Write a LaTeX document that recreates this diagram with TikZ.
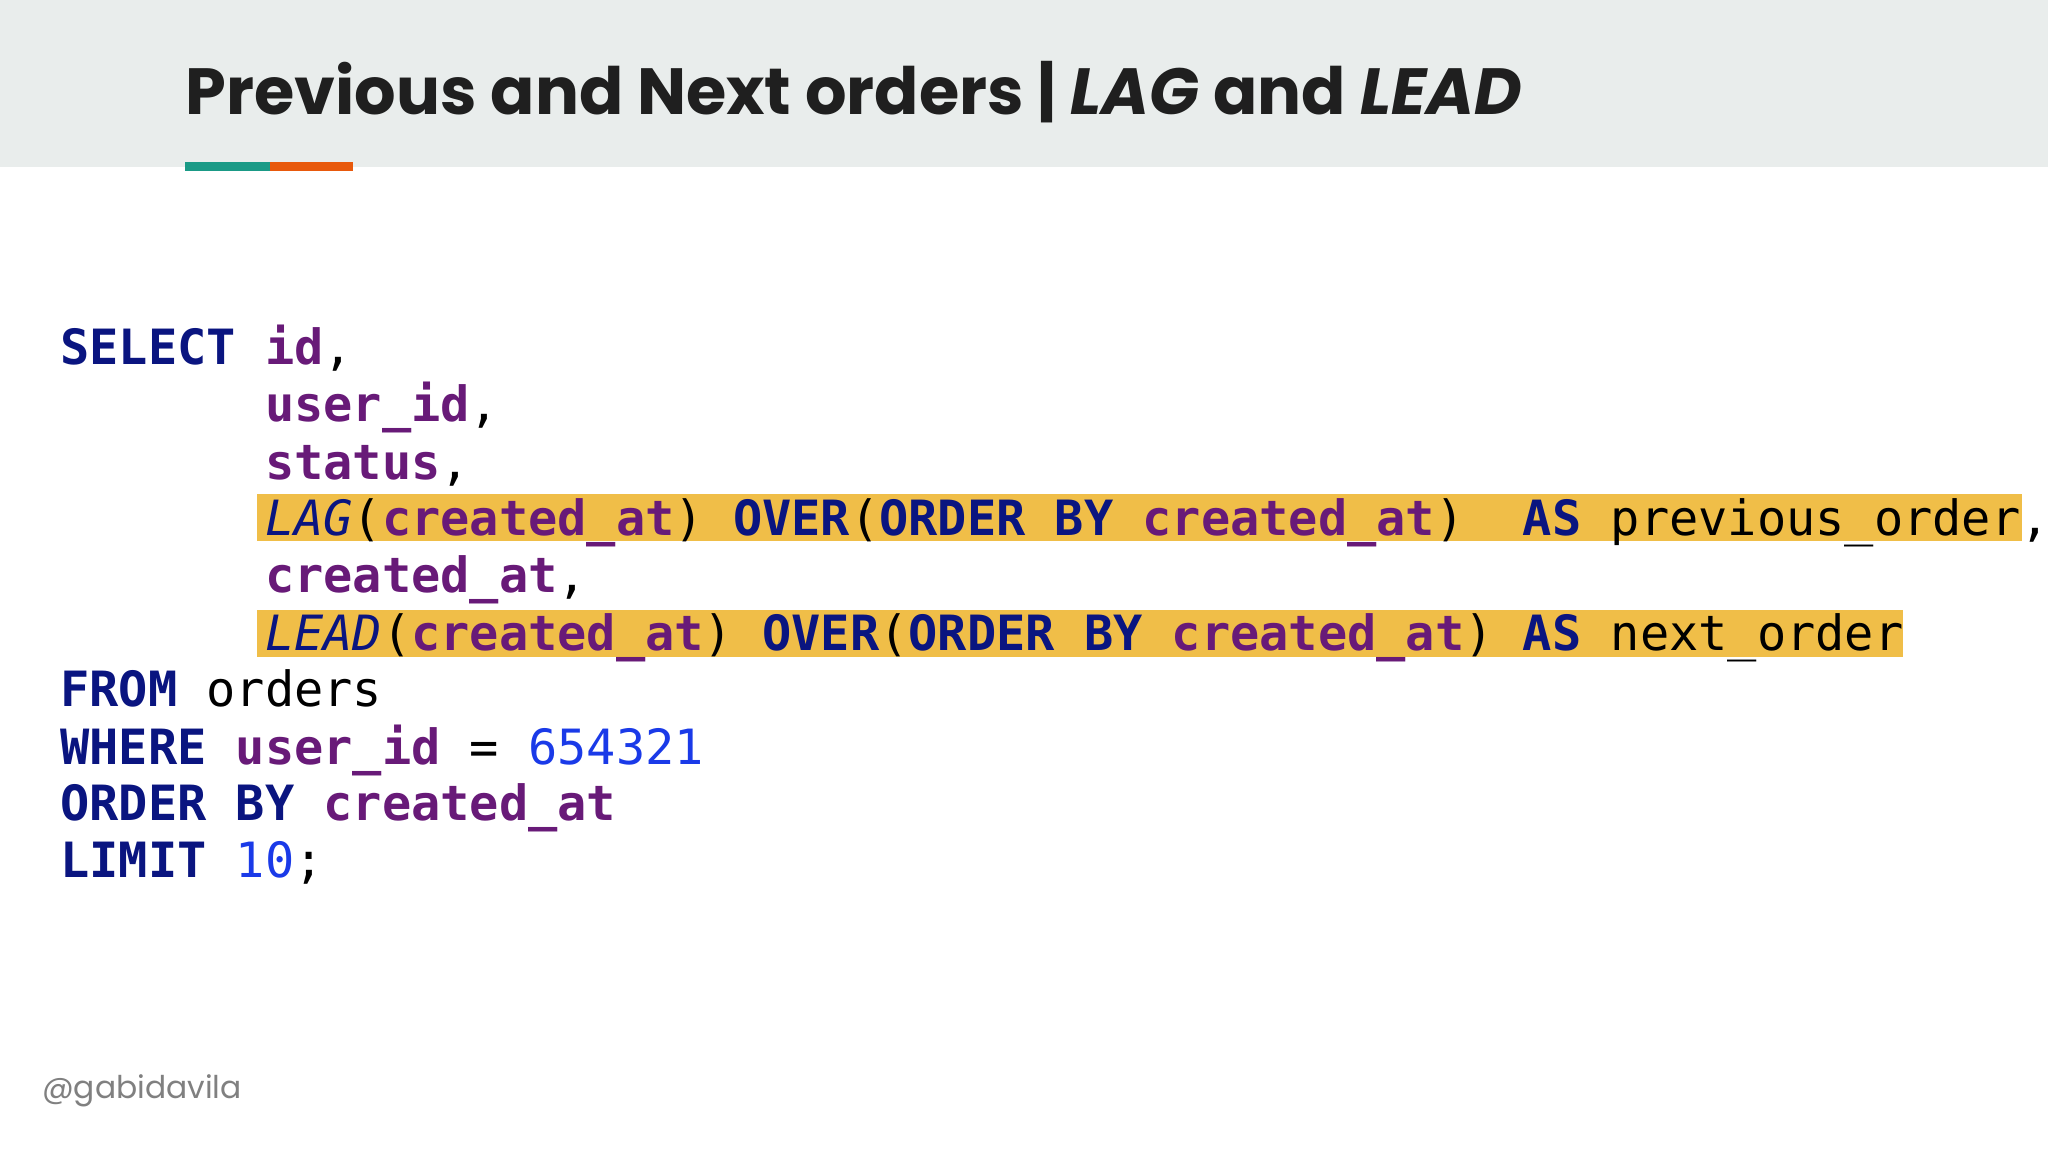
\documentclass[tikz,border=0pt]{standalone}
\usepackage{fontspec}
\setmainfont{Poppins}
\setmonofont{DejaVu Sans Mono}
\definecolor{hdr}{HTML}{E9EDEC}
\definecolor{teal}{HTML}{1A9A86}
\definecolor{orng}{HTML}{E8590C}
\definecolor{kw}{HTML}{0A1580}
\definecolor{idn}{HTML}{681A78}
\definecolor{num}{HTML}{1A3AE8}
\definecolor{hl}{HTML}{F0BE48}
\newcommand{\K}[1]{\textcolor{kw}{\bfseries #1}}
\newcommand{\I}[1]{\textcolor{idn}{\bfseries #1}}
\newcommand{\N}[1]{\textcolor{num}{#1}}
\newcommand{\F}[1]{\textcolor{kw}{\itshape #1}}
\tikzset{code/.style={anchor=base west,inner sep=0,font=\fontsize{37.2}{40}\ttfamily},
title/.style={anchor=base west,inner sep=0,font=\fontsize{50}{56}\selectfont\bfseries,text=black!88}}
\begin{document}
\begin{tikzpicture}[x=1pt,y=-1pt]
\useasboundingbox (0,0) rectangle (1568,882);
\fill[white] (0,0) rectangle (1568,882);
\fill[hdr] (0,0) rectangle (1568,128);
\fill[teal] (142,124) rectangle (207,131);
\fill[orng] (207,124) rectangle (270,131);
\node[title] (t) at (142,88) {Previous and Next orders | \textit{LAG} and \textit{LEAD}};
\fill[hl] (197,378) rectangle (1548,414);
\fill[hl] (197,467) rectangle (1457,503);
\def\X#1{46+#1*22.4}
\node[code] (l1) at ({\X0},279) {\K{SELECT} \I{id},};
\node[code] (l2) at ({\X7},323) {\I{user\_id},};
\node[code] (l3) at ({\X7},367) {\I{status},};
\node[code] (l4) at ({\X7},410) {\F{LAG}(\I{created\_at}) \K{OVER}(\K{ORDER} \K{BY} \I{created\_at})\ \ \K{AS} previous\_order,};
\node[code] (l5) at ({\X7},454) {\I{created\_at},};
\node[code] (l6) at ({\X7},498) {\F{LEAD}(\I{created\_at}) \K{OVER}(\K{ORDER} \K{BY} \I{created\_at}) \K{AS} next\_order};
\node[code] (l7) at ({\X0},541) {\K{FROM} orders};
\node[code] (l8) at ({\X0},585) {\K{WHERE} \I{user\_id} = \N{654321}};
\node[code] (l9) at ({\X0},628) {\K{ORDER} \K{BY} \I{created\_at}};
\node[code] (l10) at ({\X0},672) {\K{LIMIT} \N{10};};
\node[anchor=base west,inner sep=0,font=\fontsize{24}{28}\selectfont,text=black!50] (h) at (32,841) {@gabidavila};
\end{tikzpicture}
\end{document}
